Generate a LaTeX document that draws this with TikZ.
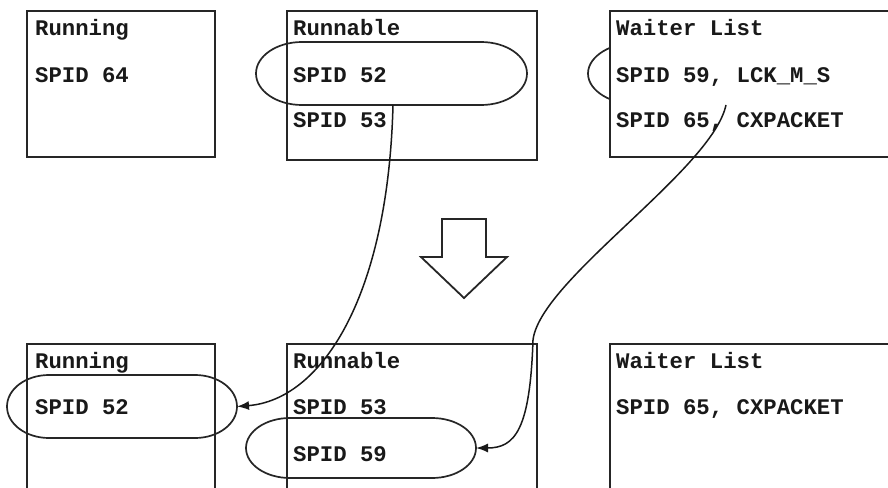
\documentclass[tikz,border=0pt]{standalone}
\usepackage{fontspec}
\setmonofont{Liberation Mono}
\usetikzlibrary{arrows.meta}

\tikzset{
  box/.style={draw=black!85, line width=1.8pt},
  pill/.style={draw=black!85, line width=1.7pt},
  lbl/.style={anchor=base west, inner sep=0pt, text=black!90,
    font=\ttfamily\bfseries\fontsize{22.3}{26}\selectfont},
  hop/.style={draw=black!90, line width=1.5pt, -{Latex[length=12pt,width=9pt]}},
}

\begin{document}
\begin{tikzpicture}[x=1pt,y=-1pt]

\clip (0,0) rectangle (888,487);
\fill[white] (0,0) rectangle (888,487);

% BEFORE
\draw[box] (27,11) rectangle (215,157);
\draw[box] (287,11) rectangle (537,160);
\draw[pill] (302,42) -- (481,42) arc[start angle=-90, end angle=90, x radius=46, y radius=31.5]
  -- (302,105) arc[start angle=90, end angle=270, x radius=46, y radius=31.5] -- cycle;
\coordinate (r52s) at (393,105);

\draw[pill] (640,42) -- (820,42) arc[start angle=-90, end angle=90, x radius=50, y radius=31.5]
  -- (640,105) arc[start angle=90, end angle=270, x radius=52, y radius=31.5] -- cycle;
\draw[box, fill=white] (610,11) rectangle (900,157);
\coordinate (w59s) at (726,105);

\node[lbl] (runA) at (35,36) {Running};
\node[lbl] (runA64) at (35,82) {SPID 64};
\node[lbl] (rblA) at (293,36) {Runnable};
\node[lbl] (rblA52) at (293,82) {SPID 52};
\node[lbl] (rblA53) at (293,127) {SPID 53};
\node[lbl] (waitA) at (616,36) {Waiter List};
\node[lbl] (waitA59) at (616,82) {SPID 59, LCK\_M\_S};
\node[lbl] (waitA65) at (616,127) {SPID 65, CXPACKET};

% DOWN ARROW
\draw[box] (442,219) -- (486,219) -- (486,257) -- (507,257) -- (464,298)
  -- (421,257) -- (442,257) -- cycle;

% AFTER
\draw[box] (27,344) rectangle (215,500);
\draw[box] (287,344) rectangle (537,500);
\draw[box] (610,344) rectangle (900,500);

\draw[pill] (49,375) -- (195,375) arc[start angle=-90, end angle=90, x radius=42, y radius=31.5]
  -- (49,438) arc[start angle=90, end angle=270, x radius=42, y radius=31.5] -- cycle;
\coordinate (p52e) at (237,406.5);

\draw[pill] (290,418) -- (432,418) arc[start angle=-90, end angle=90, x radius=44, y radius=30]
  -- (290,478) arc[start angle=90, end angle=270, x radius=44, y radius=30] -- cycle;
\coordinate (p59e) at (476,448);

\node[lbl] (runB) at (35,368) {Running};
\node[lbl] (runB52) at (35,414) {SPID 52};
\node[lbl] (rblB) at (293,368) {Runnable};
\node[lbl] (rblB53) at (293,414) {SPID 53};
\node[lbl] (rblB59) at (293,461) {SPID 59};
\node[lbl] (waitB) at (616,368) {Waiter List};
\node[lbl] (waitB65) at (616,414) {SPID 65, CXPACKET};

% MOVES
\draw[hop] (r52s) .. controls (388,300) and (320,400) .. (p52e);
\draw[hop] (w59s) .. controls (712,170) and (540,280) .. (533,340)
  .. controls (530,430) and (515,448) .. (p59e);

\end{tikzpicture}
\end{document}
